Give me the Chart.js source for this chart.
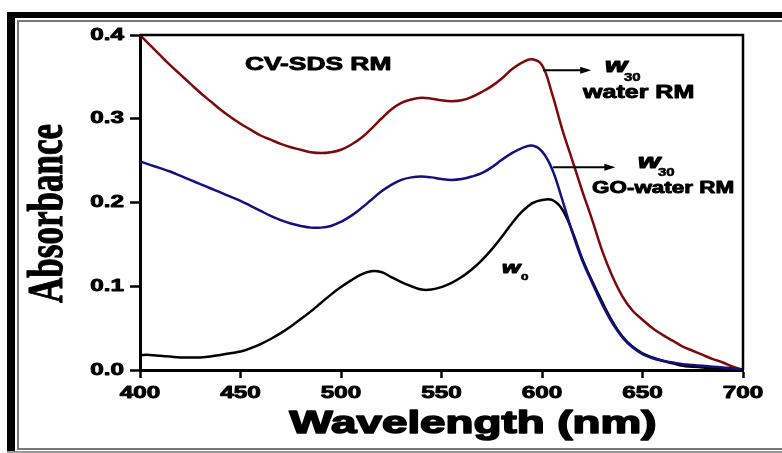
<!DOCTYPE html>
<html lang="en">
<head>
    <meta charset="UTF-8">
    <title>Absorbance spectra</title>
    <script src="https://cdn.jsdelivr.net/npm/chart.js"></script>
    <style>
        body { margin: 0; background: #fff; }
    </style>
</head>
<body>
<canvas id="spectraChart" width="782" height="453"></canvas>
<script>
    // wavelength (nm)
    const wavelengths = [400, 405, 410, 415, 420, 425, 430, 435, 440, 445, 450, 455, 460, 465, 470, 475, 480, 485, 490, 495,
        500, 505, 510, 515, 520, 525, 530, 535, 540, 545, 550, 555, 560, 565, 570, 575, 580, 585, 590, 595,
        600, 605, 610, 615, 620, 625, 630, 635, 640, 645, 650, 655, 660, 665, 670, 675, 680, 685, 690, 695, 700];
    // w30 water RM
    const absWater = [0.400, 0.388, 0.376, 0.364, 0.353, 0.342, 0.331, 0.321, 0.311, 0.302, 0.294, 0.287, 0.280, 0.275, 0.270, 0.266, 0.263, 0.260, 0.259, 0.260,
        0.263, 0.269, 0.277, 0.288, 0.300, 0.311, 0.319, 0.323, 0.325, 0.324, 0.322, 0.321, 0.322, 0.326, 0.332, 0.339, 0.348, 0.359, 0.367, 0.371,
        0.364, 0.330, 0.288, 0.251, 0.214, 0.179, 0.142, 0.112, 0.088, 0.071, 0.060, 0.050, 0.042, 0.035, 0.028, 0.023, 0.018, 0.013, 0.009, 0.004, 0.000];
    // w30 GO-water RM
    const absGO = [0.249, 0.245, 0.241, 0.237, 0.232, 0.227, 0.222, 0.217, 0.212, 0.207, 0.202, 0.196, 0.190, 0.184, 0.179, 0.175, 0.172, 0.170, 0.170, 0.172,
        0.177, 0.184, 0.193, 0.203, 0.213, 0.221, 0.227, 0.230, 0.231, 0.230, 0.228, 0.227, 0.228, 0.231, 0.235, 0.242, 0.251, 0.259, 0.265, 0.268,
        0.261, 0.240, 0.204, 0.165, 0.131, 0.104, 0.078, 0.056, 0.039, 0.027, 0.019, 0.014, 0.011, 0.009, 0.007, 0.006, 0.005, 0.004, 0.003, 0.002, 0.000];
    // w0
    const absW0 = [0.018, 0.018, 0.017, 0.016, 0.015, 0.015, 0.015, 0.016, 0.018, 0.020, 0.022, 0.026, 0.031, 0.037, 0.044, 0.052, 0.061, 0.070, 0.080, 0.090,
        0.099, 0.107, 0.114, 0.118, 0.117, 0.111, 0.105, 0.100, 0.096, 0.096, 0.099, 0.104, 0.111, 0.120, 0.131, 0.144, 0.159, 0.175, 0.189, 0.199,
        0.203, 0.203, 0.192, 0.166, 0.133, 0.106, 0.081, 0.058, 0.040, 0.028, 0.020, 0.015, 0.011, 0.008, 0.005, 0.004, 0.003, 0.002, 0.001, 0.001, 0.000];

    const xTicks = [400, 450, 500, 550, 600, 650, 700];
    const yTicks = [0.0, 0.1, 0.2, 0.3, 0.4];

    const SX = 1.43; // the original figure is stretched sideways

    function toPoints(ys) {
        return wavelengths.map((x, i) => ({x: x, y: ys[i]}));
    }

    function stretchText(ctx, str, x, y, font, align, sx, heavy) {
        ctx.save();
        ctx.translate(x, y);
        ctx.scale(sx, 1);
        ctx.font = font;
        ctx.textAlign = align;
        ctx.fillText(str, 0, 0);
        if (heavy) {
            ctx.lineWidth = heavy;
            ctx.lineJoin = 'round';
            ctx.strokeText(str, 0, 0);
        }
        ctx.restore();
    }

    function arrow(ctx, x1, x2, y) {
        ctx.save();
        ctx.strokeStyle = '#000';
        ctx.fillStyle = '#000';
        ctx.lineWidth = 2;
        ctx.beginPath();
        ctx.moveTo(x1, y);
        ctx.lineTo(x2 - 8, y);
        ctx.stroke();
        ctx.beginPath();
        ctx.moveTo(x2, y);
        ctx.lineTo(x2 - 11, y - 3.5);
        ctx.lineTo(x2 - 11, y + 3.5);
        ctx.closePath();
        ctx.fill();
        ctx.restore();
    }

    const decorations = {
        id: 'decorations',
        afterDraw(chart) {
            const ctx = chart.ctx;
            const a = chart.chartArea;
            const xs = chart.scales.x;
            const ys = chart.scales.y;
            const px = v => xs.getPixelForValue(v);
            const py = v => ys.getPixelForValue(v);

            ctx.save();
            // outer frame
            ctx.fillStyle = '#000';
            ctx.fillRect(7, 12, 775, 6);
            ctx.fillRect(7, 12, 8, 441);
            ctx.fillStyle = '#777';
            ctx.fillRect(17, 20, 765, 2);
            ctx.fillRect(17, 20, 2, 430);
            ctx.fillRect(17, 448, 765, 2);
            ctx.fillStyle = '#999';
            ctx.fillRect(7, 451, 775, 2);

            // top and right of the plot box
            ctx.strokeStyle = '#000';
            ctx.lineWidth = 2.5;
            ctx.beginPath();
            ctx.moveTo(a.left, a.top);
            ctx.lineTo(a.right, a.top);
            ctx.lineTo(a.right, a.bottom);
            ctx.stroke();

            ctx.fillStyle = '#000';
            ctx.strokeStyle = '#000';
            const tickFont = 'bold 17px "Liberation Sans", Arial, sans-serif';
            // tick labels
            ctx.textBaseline = 'middle';
            yTicks.forEach(v => stretchText(ctx, v.toFixed(1), a.left - 16, py(v), tickFont, 'right', SX, 0.9));
            ctx.textBaseline = 'alphabetic';
            xTicks.forEach(v => stretchText(ctx, String(v), px(v), a.bottom + 28, tickFont, 'center', SX, 0.9));

            // axis titles
            stretchText(ctx, 'Wavelength (nm)', 473, a.bottom + 63, 'bold 32px "Liberation Sans", Arial, sans-serif', 'center', SX, 1.6);
            ctx.save();
            ctx.translate(62, py(0.2) + 11);
            ctx.rotate(-Math.PI / 2);
            ctx.scale(1, 1.42);
            ctx.font = 'bold 35px "Liberation Serif", "Times New Roman", serif';
            ctx.textAlign = 'center';
            ctx.fillText('Absorbance', 0, 0);
            ctx.lineWidth = 0.8;
            ctx.strokeText('Absorbance', 0, 0);
            ctx.restore();

            // annotations
            const wFont = 'bold italic 20px "Liberation Sans", Arial, sans-serif';
            const subFont = 'bold 10.5px "Liberation Sans", Arial, sans-serif';
            stretchText(ctx, 'CV-SDS RM', px(452.2), py(0.358), 'bold 19px "Liberation Sans", Arial, sans-serif', 'left', SX * 0.97, 0.9);

            arrow(ctx, px(600.5), px(624.5), py(0.358));
            stretchText(ctx, 'w', px(631.3), py(0.356), wFont, 'left', SX, 1.2);
            stretchText(ctx, '30', px(640.8), py(0.345), subFont, 'left', SX, 0.5);
            stretchText(ctx, 'water RM', px(620.4), py(0.325), 'bold 17.5px "Liberation Sans", Arial, sans-serif', 'left', SX, 0.9);

            arrow(ctx, px(605.5), px(636.5), py(0.242));
            stretchText(ctx, 'w', px(647.8), py(0.241), wFont, 'left', SX, 1.2);
            stretchText(ctx, '30', px(657.7), py(0.232), subFont, 'left', SX, 0.5);
            stretchText(ctx, 'GO-water RM', px(624.9), py(0.211), 'bold 16px "Liberation Sans", Arial, sans-serif', 'left', SX * 0.98, 0.9);

            stretchText(ctx, 'w', px(580.1), py(0.116), 'bold italic 16.5px "Liberation Sans", Arial, sans-serif', 'left', SX, 1.1);
            stretchText(ctx, '0', px(589.6), py(0.107), 'bold 9.5px "Liberation Sans", Arial, sans-serif', 'left', SX, 0.5);
            ctx.restore();
        }
    };

    const ctx = document.getElementById('spectraChart').getContext('2d');
    const spectraChart = new Chart(ctx, {
        type: 'line',
        data: {
            datasets: [
                {
                    label: 'w30 GO-water RM',
                    data: toPoints(absGO),
                    borderColor: '#12127f',
                    borderWidth: 2.5
                },
                {
                    label: 'w0',
                    data: toPoints(absW0),
                    borderColor: '#000000',
                    borderWidth: 2.5
                },
                {
                    label: 'w30 water RM',
                    data: toPoints(absWater),
                    borderColor: '#7d0a0a',
                    borderWidth: 2.5
                }
            ]
        },
        options: {
            responsive: false,
            animation: false,
            devicePixelRatio: 1,
            layout: {padding: {left: 0, top: 35, right: 39, bottom: 0}},
            elements: {
                point: {radius: 0},
                line: {tension: 0.4, fill: false}
            },
            plugins: {
                legend: {display: false},
                tooltip: {enabled: false}
            },
            scales: {
                x: {
                    type: 'linear',
                    min: 400,
                    max: 700,
                    afterBuildTicks: s => { s.ticks = xTicks.map(v => ({value: v})); },
                    afterFit: s => { s.height = 83; },
                    grid: {drawOnChartArea: false, tickLength: 8, tickWidth: 2.5, tickColor: '#000'},
                    border: {color: '#000', width: 3},
                    ticks: {color: 'rgba(0,0,0,0)', font: {size: 17}}
                },
                y: {
                    min: 0,
                    max: 0.4,
                    afterBuildTicks: s => { s.ticks = yTicks.map(v => ({value: v})); },
                    afterFit: s => { s.width = 140; },
                    grid: {drawOnChartArea: false, tickLength: 10, tickWidth: 2.5, tickColor: '#000'},
                    border: {color: '#000', width: 3},
                    ticks: {color: 'rgba(0,0,0,0)', font: {size: 17}}
                }
            }
        },
        plugins: [decorations]
    });
</script>
</body>
</html>
